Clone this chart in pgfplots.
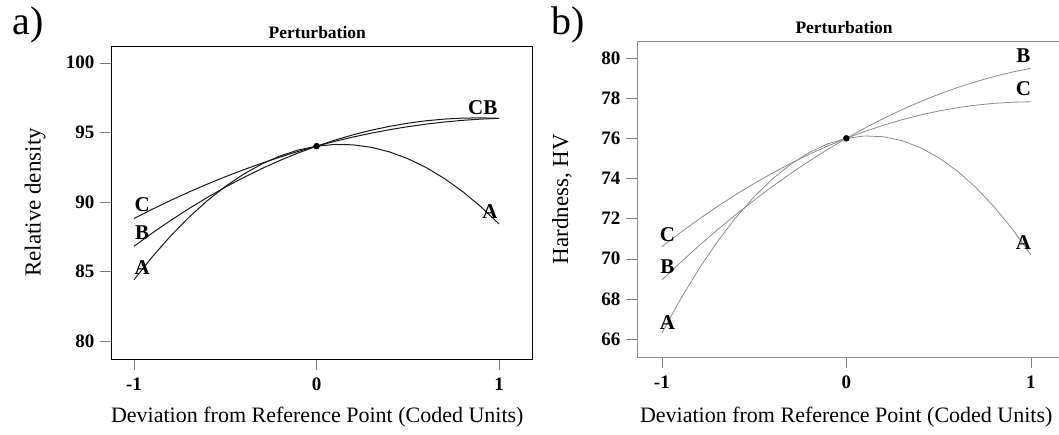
\documentclass[border=0pt]{standalone}
\usepackage{fontspec}
\setmainfont{Liberation Serif}
\usepackage{pgfplots}
\pgfplotsset{compat=1.18}

% ticks/labels shared by both panels
\pgfplotsset{
  pert/.style={
    scale only axis,
    xmin=-1.126, xmax=1.18,
    xtick={-1,0,1},
    xtick pos=left, ytick pos=left,
    tick align=outside,
    major tick length=11pt,
    /pgf/number format/assume math mode=true,
    ticklabel style={font=\bfseries\fontsize{19}{22}\selectfont},
    yticklabel style={xshift=-2pt},
    xticklabel style={yshift=-4pt},
    label style={font=\fontsize{23}{27}\selectfont},
    xlabel style={font=\fontsize{22}{26}\selectfont},
    title style={font=\bfseries\fontsize{17.5}{20}\selectfont, anchor=base, yshift=1pt},
    xlabel={Deviation from Reference Point (Coded Units)},
    title={Perturbation},
    clip=false,
  },
}
\tikzset{lbl/.style={font=\bfseries\fontsize{21}{24}\selectfont}}

\begin{document}
\begin{tikzpicture}[x=1pt,y=1pt]

% ---- a) relative density
\begin{axis}[pert,
  at={(111pt,75pt)}, anchor=south west,
  width=421pt, height=313pt,
  ymin=78.7, ymax=101.2,
  ytick={80,85,90,95,100},
  ylabel={Relative density},
  xlabel style={at={(axis description cs:0.49,-0.185)}, anchor=center},
  ylabel style={at={(axis description cs:-0.18,0.5)}, anchor=center},
  title style={at={(axis description cs:0.49,1)}},
]
\addplot[line width=1pt, black!90] coordinates {
(-1,84.4) (-0.9,86.044) (-0.8,87.536) (-0.7,88.876) (-0.6,90.064) (-0.5,91.1)
(-0.4,91.984) (-0.3,92.716) (-0.2,93.296) (-0.1,93.724) (0,94) (0.1,94.124)
(0.2,94.096) (0.3,93.916) (0.4,93.584) (0.5,93.1) (0.6,92.464) (0.7,91.676)
(0.8,90.736) (0.9,89.644) (1,88.4)};
\addplot[line width=1pt, black!90] coordinates {
(-1,86.8) (-0.9,87.754) (-0.8,88.656) (-0.7,89.506) (-0.6,90.304) (-0.5,91.05)
(-0.4,91.744) (-0.3,92.386) (-0.2,92.976) (-0.1,93.514) (0,94) (0.1,94.434)
(0.2,94.816) (0.3,95.146) (0.4,95.424) (0.5,95.65) (0.6,95.824) (0.7,95.946)
(0.8,96.016) (0.9,96.034) (1,96.0)};
\addplot[line width=1pt, black!90] coordinates {
(-1,88.8) (-0.9,89.464) (-0.8,90.096) (-0.7,90.696) (-0.6,91.264) (-0.5,91.8)
(-0.4,92.304) (-0.3,92.776) (-0.2,93.216) (-0.1,93.624) (0,94) (0.1,94.344)
(0.2,94.656) (0.3,94.936) (0.4,95.184) (0.5,95.4) (0.6,95.584) (0.7,95.736)
(0.8,95.856) (0.9,95.944) (1,96.0)};
\addplot[only marks, mark=*, mark size=3pt, black] coordinates {(0,94)};
\node[lbl] at (axis cs:-0.955,89.8) {C};
\node[lbl] at (axis cs:-0.955,87.8) {B};
\node[lbl] at (axis cs:-0.955,85.25) {A};
\node[lbl] at (axis cs:0.91,96.8) {CB};
\node[lbl] at (axis cs:0.95,89.3) {A};
\end{axis}

% ---- b) hardness
\begin{axis}[pert,
  at={(637pt,77pt)}, anchor=south west,
  width=427pt, height=316pt,
  xmin=-1.135,
  ymin=65.1, ymax=80.85,
  ytick={66,68,70,72,74,76,78,80},
  axis line style={black!45},
  ylabel={Hardness, HV},
  xlabel style={at={(axis description cs:0.49,-0.19)}, anchor=center},
  ylabel style={at={(axis description cs:-0.176,0.5)}, anchor=center},
  title style={at={(axis description cs:0.485,1)}},
]
\addplot[line width=0.8pt, black!45] coordinates {
(-1,66.3) (-0.9,67.968) (-0.8,69.48) (-0.7,70.838) (-0.6,72.04) (-0.5,73.088)
(-0.4,73.98) (-0.3,74.718) (-0.2,75.3) (-0.1,75.728) (0,76) (0.1,76.118)
(0.2,76.08) (0.3,75.888) (0.4,75.54) (0.5,75.038) (0.6,74.38) (0.7,73.568)
(0.8,72.6) (0.9,71.478) (1,70.2)};
\addplot[line width=0.8pt, black!45] coordinates {
(-1,68.94) (-0.9,69.807) (-0.8,70.638) (-0.7,71.433) (-0.6,72.192) (-0.5,72.916)
(-0.4,73.604) (-0.3,74.257) (-0.2,74.874) (-0.1,75.455) (0,76) (0.1,76.51)
(0.2,76.984) (0.3,77.422) (0.4,77.824) (0.5,78.191) (0.6,78.522) (0.7,78.818)
(0.8,79.078) (0.9,79.302) (1,79.49)};
\addplot[line width=0.8pt, black!45] coordinates {
(-1,70.6) (-0.9,71.301) (-0.8,71.966) (-0.7,72.596) (-0.6,73.19) (-0.5,73.748)
(-0.4,74.27) (-0.3,74.756) (-0.2,75.206) (-0.1,75.621) (0,76) (0.1,76.343)
(0.2,76.65) (0.3,76.922) (0.4,77.158) (0.5,77.358) (0.6,77.522) (0.7,77.65)
(0.8,77.742) (0.9,77.799) (1,77.82)};
\addplot[only marks, mark=*, mark size=3pt, black] coordinates {(0,76)};
\node[lbl] at (axis cs:-0.97,71.2) {C};
\node[lbl] at (axis cs:-0.97,69.6) {B};
\node[lbl] at (axis cs:-0.97,66.8) {A};
\node[lbl] at (axis cs:0.96,80.1) {B};
\node[lbl] at (axis cs:0.96,78.45) {C};
\node[lbl] at (axis cs:0.96,70.8) {A};
\end{axis}

\node[font=\fontsize{40}{44}\selectfont, anchor=base west] at (9,399) {a)};
\node[font=\fontsize{40}{44}\selectfont, anchor=base west] at (548,399) {b)};

\pgfresetboundingbox
\path[use as bounding box] (0,0) rectangle (1059,434);
\end{tikzpicture}
\end{document}
